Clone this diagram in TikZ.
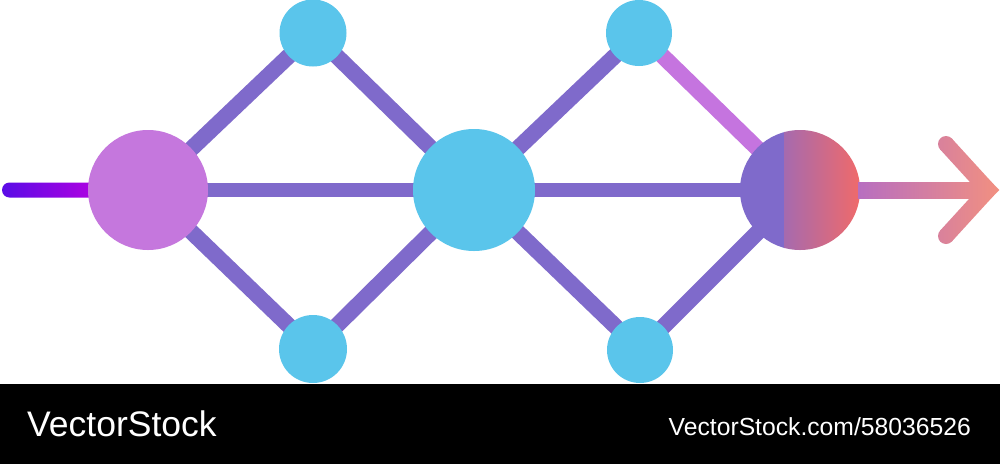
\documentclass[tikz,border=0pt]{standalone}
\usepackage{fontspec}
\setmainfont{Liberation Sans}
\usetikzlibrary{calc}
\pgfdeclarelayer{bg}
\pgfsetlayers{bg,main}
\definecolor{edgepurple}{RGB}{127,106,203}
\definecolor{edgeviolet}{RGB}{197,116,223}
\definecolor{leftfill}{RGB}{197,119,221}
\definecolor{bluefill}{RGB}{90,197,235}
\definecolor{stubA}{RGB}{90,12,230}
\definecolor{stubB}{RGB}{180,0,225}
\definecolor{rightA}{RGB}{166,106,174}
\definecolor{rightB}{RGB}{242,106,104}
\definecolor{arrowA}{RGB}{180,108,196}
\definecolor{arrowB}{RGB}{242,144,128}
\tikzset{
  edge/.style={line width=14pt, edgepurple},
  diag/.style={line width=16pt, edgepurple},
  bignode/.style={circle, inner sep=0pt, minimum size=122pt},
  smallnode/.style={circle, inner sep=0pt, minimum size=67pt, fill=bluefill},
  arrowshade/.style={left color=arrowA, right color=arrowB},
  bandtext/.style={text=white, inner sep=0pt}
}
\newcommand\arrowpiece[1]{\begin{scope}\clip #1; \shade[arrowshade] (850,120) rectangle (1000,260);\end{scope}}
\begin{document}
\begin{tikzpicture}[x=1pt,y=-1pt]
\useasboundingbox (0,0) rectangle (1000,464);
% nodes
\node[bignode, fill=leftfill, minimum size=120pt] (L) at (148,190) {};
\node[smallnode] (T1) at (313,33) {};
\node[smallnode, minimum size=68pt] (B1) at (313,349) {};
\node[bignode, fill=bluefill] (C) at (474,190) {};
\node[smallnode, minimum size=66pt] (T2) at (639,33) {};
\node[smallnode, minimum size=66pt] (B2) at (640,350) {};
\node[bignode, minimum size=120pt] (R) at (800,190) {};
\coordinate (S) at (2,190);
\coordinate (tip) at (988,190);
\coordinate (E1) at (946,144);
\coordinate (E2) at (946,236);
% edges
\begin{pgfonlayer}{bg}
\fill[white] (0,0) rectangle (1000,464);
\draw[diag] (L.center) -- (T1.center);
\draw[diag] (L.center) -- (B1.center);
\draw[edge] (L.center) -- (C.center);
\draw[diag] (T1.center) -- (C.center);
\draw[diag] (B1.center) -- (C.center);
\draw[diag] (C.center) -- (T2.center);
\draw[diag] (C.center) -- (B2.center);
\draw[edge] (C.center) -- (R.center);
\draw[diag, edgeviolet] (T2.center) -- (R.center);
\draw[diag] (B2.center) -- (R.center);
% left stub
\shade[left color=stubA, right color=stubB, rounded corners=7.5pt] (S) ++(0,-7.5) rectangle (100,197.5);
\end{pgfonlayer}
% right circle with split fill
\begin{scope}
\clip (R.center) circle (60pt);
\fill[edgepurple] (738,125) rectangle (784.5,255);
\shade[left color=rightA, right color=rightB] (784,125) rectangle (862,255);
\end{scope}
% gradient arrow
\arrowpiece{(858,182) rectangle (tip |- 0,198)}
\arrowpiece{($(E1)!8pt!90:(tip)$) -- ($(tip)!8pt!-90:(E1)$) -- ($(tip)!8pt!90:(E1)$) -- ($(E1)!8pt!-90:(tip)$) -- cycle}
\arrowpiece{($(E2)!8pt!90:(tip)$) -- ($(tip)!8pt!-90:(E2)$) -- ($(tip)!8pt!90:(E2)$) -- ($(E2)!8pt!-90:(tip)$) -- cycle}
\arrowpiece{($(tip)+(11.3,0)$) -- ($(tip)+(0,-11.3)$) -- ($(tip)+(-11.3,0)$) -- ($(tip)+(0,11.3)$) -- cycle}
\arrowpiece{(E1) circle (8pt)}
\arrowpiece{(E2) circle (8pt)}
% bottom band
\fill[black] (0,384) rectangle (1000,464);
\node[bandtext, anchor=base west, font=\fontsize{35.5pt}{40pt}\selectfont] (brand) at (27,436) {VectorStock};
\node[bandtext, anchor=base east, font=\fontsize{24.7pt}{28pt}\selectfont] (url) at (971,435) {VectorStock.com/58036526};
\end{tikzpicture}
\end{document}
